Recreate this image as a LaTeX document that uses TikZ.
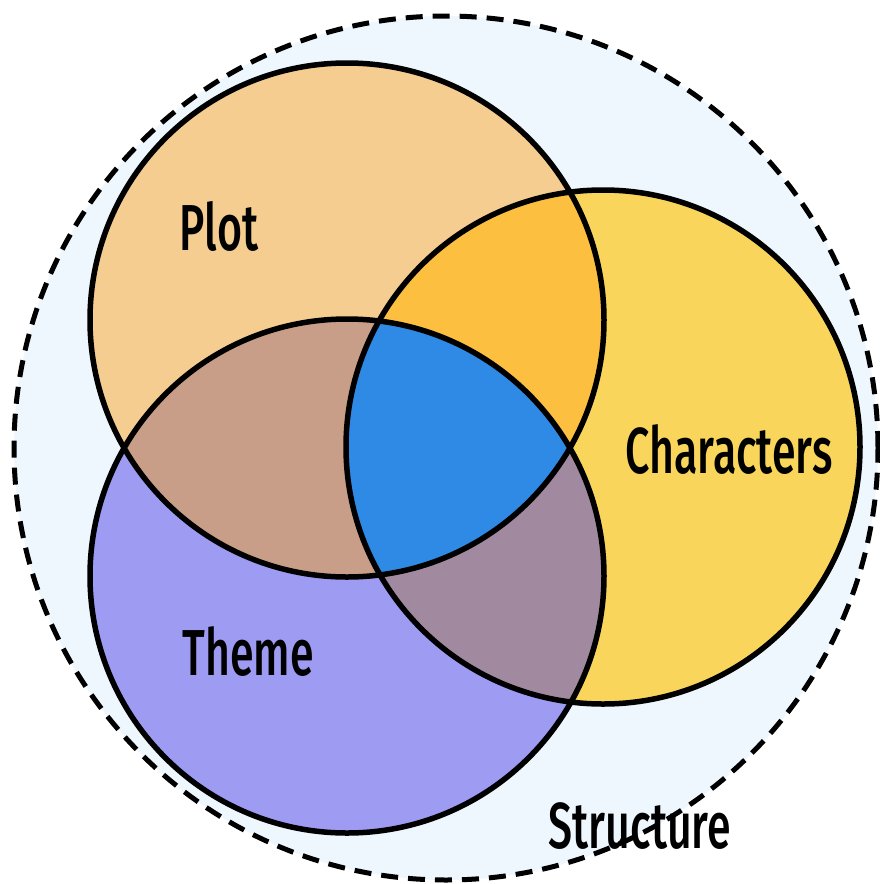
\documentclass[tikz,border=0pt]{standalone}
\usepackage{fontspec}
\usepackage{tikz}
\usetikzlibrary{positioning}
\newfontfamily\vennfont{Fira Sans}[UprightFont=* Medium, FakeStretch=0.66]
\definecolor{structfill}{HTML}{EEF6FE}
\definecolor{plotfill}{HTML}{F5CD91}
\definecolor{charfill}{HTML}{F9D65B}
\definecolor{themefill}{HTML}{9E9BF3}
\definecolor{pcfill}{HTML}{FCBF3F}
\definecolor{ptfill}{HTML}{C99E88}
\definecolor{tcfill}{HTML}{A18AA0}
\definecolor{allfill}{HTML}{2F8AE6}

\begin{document}
\begin{tikzpicture}[x=1pt,y=-1pt,
    setlabel/.style={font=\vennfont\fontsize{65}{65}\selectfont, inner sep=0pt}]
        \def\rad{257pt} % radius of the three sets
        \def\outer{432pt} % radius of the structure circle

        \useasboundingbox (0,0) rectangle (879,884);

        % Define set centres
        \coordinate (struct) at (446,448);
        \coordinate (plot) at (347,320);
        \coordinate (chars) at (603,447);
        \coordinate (theme) at (347,576);

        % Structure background
        \fill[structfill] (struct) circle (\outer);

        % Single sets
        \foreach \c/\col in {plot/plotfill, chars/charfill, theme/themefill}
            \fill[\col] (\c) circle (\rad);

        % Pairwise overlaps
        \foreach \a/\b/\col in {plot/chars/pcfill, plot/theme/ptfill, theme/chars/tcfill}
        {
            \begin{scope}
                \clip (\a) circle (\rad);
                \fill[\col] (\b) circle (\rad);
            \end{scope}
        }

        % Centre overlap
        \begin{scope}
            \clip (plot) circle (\rad);
            \clip (theme) circle (\rad);
            \fill[allfill] (chars) circle (\rad);
        \end{scope}

        % Outlines
        \foreach \c in {plot, chars, theme}
            \draw[line width=5.5pt] (\c) circle (\rad);
        \draw[line width=5pt, dash pattern=on 17pt off 10pt] (struct) circle (\outer);

        % Labels
        \node[setlabel] (plotlabel) at (219,226) {Plot};
        \node[setlabel] (charslabel) at (729,450) {Characters};
        \node[setlabel] (themelabel) at (248,652) {Theme};
        \node[setlabel] (structlabel) at (640,826) {Structure};
    \end{tikzpicture}
\end{document}
